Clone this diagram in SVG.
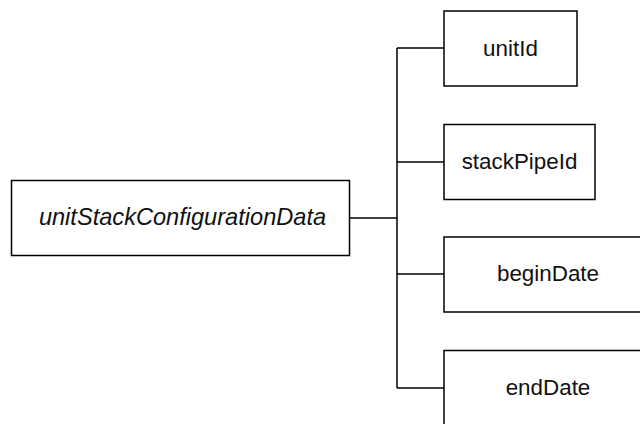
<svg xmlns="http://www.w3.org/2000/svg" width="640" height="424" viewBox="0 0 640 424">
<style>
.box{fill:#fff;stroke:#000;stroke-width:1.5}
.lbl{font-family:"Liberation Sans",Arial,sans-serif;font-size:22.4px;fill:#111;text-anchor:middle}
.it{font-style:italic;font-size:23.6px}
.con{fill:none;stroke:#000;stroke-width:1.5}
</style>
<rect width="640" height="424" fill="#fff"/>
<g id="connectors">
<path class="con" d="M350 218 H397 M397 48 V388 M397 48 H444 M397 162 H444 M397 274 H444 M397 388 H444"/>
</g>
<g id="root">
<rect class="box" x="11.5" y="180.5" width="338" height="75"/>
<text class="lbl it" x="182.5" y="225">unitStackConfigurationData</text>
</g>
<g id="unitId">
<rect class="box" x="444" y="11" width="133" height="75"/>
<text class="lbl" x="510.5" y="55.5">unitId</text>
</g>
<g id="stackPipeId">
<rect class="box" x="444" y="124.5" width="151" height="75"/>
<text class="lbl" x="519.5" y="169">stackPipeId</text>
</g>
<g id="beginDate">
<rect class="box" x="444" y="237" width="208" height="75"/>
<text class="lbl" x="548" y="281">beginDate</text>
</g>
<g id="endDate">
<rect class="box" x="444" y="350.5" width="208" height="75"/>
<text class="lbl" x="548" y="395">endDate</text>
</g>
</svg>
